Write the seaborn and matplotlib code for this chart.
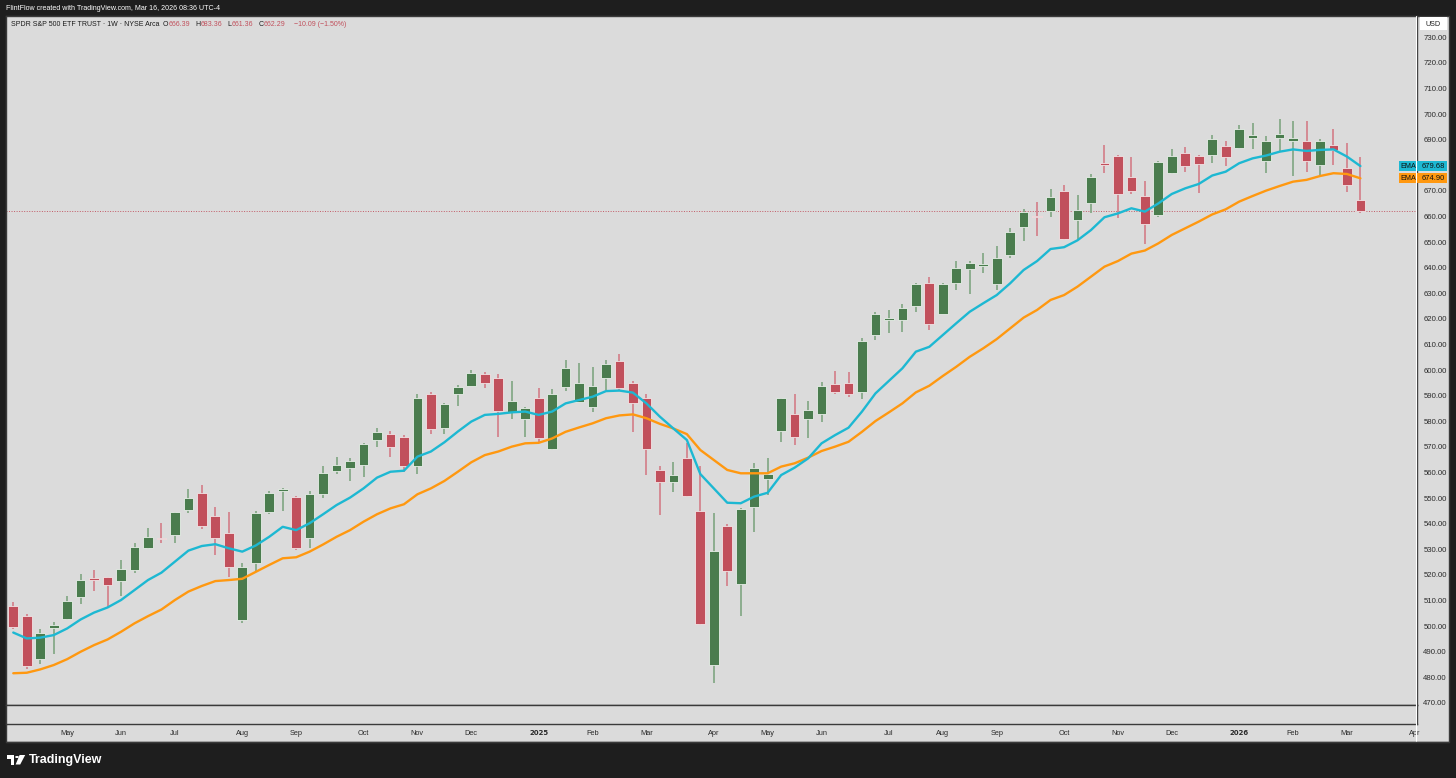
import numpy as np
import pandas as pd
import matplotlib
matplotlib.use("Agg")
import matplotlib.pyplot as plt
import matplotlib.transforms as mtransforms
from matplotlib.patches import Rectangle, Polygon, Circle
from matplotlib.lines import Line2D
import seaborn as sns

# weekly SPY candles (dividend adjusted)
first_week = "2024-04-08"
opens = [507.9, 504.1, 487.1, 499.1, 502.6, 511.5, 518.4, 519.0, 517.7, 521.8,
         530.4, 534.6, 535.6, 545.4, 551.9, 543.0, 536.2, 502.4, 524.8, 544.7,
         552.9, 550.3, 534.5, 551.5, 560.6, 561.9, 562.8, 572.6, 575.2, 573.9,
         562.5, 590.8, 577.5, 590.5, 593.8, 598.5, 596.9, 583.8, 580.9, 589.2,
         569.0, 593.5, 587.7, 585.7, 596.8, 603.7, 595.1, 589.2, 561.0, 556.2,
         565.8, 545.0, 484.8, 539.2, 516.3, 546.7, 557.5, 576.2, 582.8, 580.9,
         582.7, 594.6, 595.1, 591.6, 613.7, 619.7, 619.6, 625.2, 633.9, 621.8,
         633.9, 639.4, 640.5, 633.8, 644.8, 655.8, 660.3, 662.3, 670.0, 658.6,
         665.4, 681.0, 683.8, 675.4, 667.9, 660.6, 676.9, 684.7, 683.8, 684.0,
         687.5, 686.6, 690.8, 681.5, 690.5, 689.6, 689.5, 680.1, 688.1, 678.8,
         666.39]
highs = [509.5, 504.6, 498.9, 501.7, 511.8, 520.2, 521.9, 519.3, 525.8, 532.3,
         538.4, 540.4, 544.7, 553.6, 555.1, 546.6, 544.7, 524.8, 545.0, 552.9,
         554.1, 550.7, 552.9, 562.5, 565.9, 565.8, 571.7, 577.4, 576.2, 574.7,
         590.7, 591.3, 587.3, 594.2, 600.0, 599.4, 598.5, 595.7, 585.7, 592.9,
         592.5, 603.9, 602.9, 601.3, 603.9, 606.3, 595.9, 590.5, 562.5, 564.2,
         571.4, 562.5, 544.0, 539.9, 546.0, 563.6, 565.5, 589.2, 590.5, 588.1,
         595.5, 599.8, 599.4, 612.7, 622.8, 623.5, 625.8, 633.9, 636.2, 633.9,
         642.6, 642.6, 645.9, 648.5, 655.6, 662.9, 665.8, 670.7, 672.3, 668.4,
         676.6, 687.9, 684.0, 683.1, 673.9, 681.7, 686.4, 687.3, 684.0, 691.8,
         689.6, 695.7, 696.4, 691.4, 698.0, 697.3, 697.4, 690.1, 694.1, 688.8,
         683.36]
lows = [498.7, 483.4, 485.1, 489.0, 502.4, 508.6, 513.8, 507.6, 511.8, 520.9,
        530.1, 532.3, 532.6, 544.0, 537.9, 527.8, 519.0, 501.1, 521.7, 543.9,
        545.1, 529.7, 530.4, 549.9, 559.3, 556.8, 558.4, 570.0, 565.9, 560.3,
        559.4, 575.2, 575.2, 586.1, 593.8, 593.1, 574.0, 580.9, 573.7, 572.0,
        568.8, 592.0, 587.7, 583.8, 592.2, 592.0, 575.9, 559.0, 543.4, 552.5,
        550.3, 500.4, 477.6, 515.8, 504.1, 536.9, 551.2, 572.0, 570.7, 573.3,
        579.9, 590.5, 589.6, 588.7, 611.8, 614.4, 614.8, 622.8, 615.7, 621.8,
        631.3, 629.6, 637.8, 631.3, 643.7, 650.6, 652.4, 659.7, 650.8, 651.1,
        661.5, 677.1, 659.3, 668.7, 649.3, 659.9, 676.6, 677.3, 669.3, 681.0,
        679.9, 686.2, 686.2, 676.9, 685.3, 675.8, 677.5, 675.8, 680.1, 669.7,
        661.36]
closes = [499.8, 484.5, 497.4, 500.4, 509.7, 518.1, 518.2, 516.2, 522.4, 531.1,
          534.7, 534.1, 544.6, 549.9, 539.1, 534.3, 523.2, 523.2, 544.3, 552.1,
          553.4, 530.4, 551.7, 559.7, 562.8, 564.4, 571.0, 575.8, 570.1, 562.5,
          589.2, 577.0, 586.6, 593.4, 598.7, 595.1, 584.2, 588.1, 585.1, 573.6,
          590.7, 601.0, 594.8, 593.8, 602.4, 592.9, 587.3, 569.0, 556.2, 559.0,
          550.8, 500.7, 529.2, 521.6, 545.6, 561.6, 559.4, 589.0, 574.0, 584.3,
          593.9, 591.6, 590.7, 611.5, 621.8, 620.2, 624.1, 633.5, 618.1, 633.5,
          639.7, 641.7, 641.4, 643.7, 653.8, 661.8, 659.7, 667.5, 651.1, 662.5,
          675.3, 680.1, 668.8, 670.0, 656.9, 681.4, 683.8, 679.7, 680.5, 690.3,
          683.1, 694.1, 691.8, 689.4, 692.1, 690.8, 681.7, 689.6, 686.0, 672.4,
          662.29]
ema_fast = [497.5, 495.2, 495.5, 496.5, 499.1, 502.6, 505.3, 507.3, 510.2, 514.1,
            518.0, 520.9, 525.2, 529.5, 531.3, 532.0, 530.4, 529.1, 531.5, 534.9,
            538.8, 537.5, 540.2, 543.7, 547.3, 550.2, 553.8, 558.0, 560.3, 560.7,
            566.2, 568.2, 571.8, 576.0, 579.9, 582.5, 582.9, 583.5, 583.8, 582.5,
            583.8, 587.0, 588.3, 589.6, 591.8, 592.0, 591.2, 587.0, 581.8, 577.2,
            572.7, 559.4, 553.8, 548.2, 548.0, 550.6, 552.1, 559.0, 561.9, 565.5,
            571.4, 574.6, 577.5, 583.8, 590.9, 595.8, 600.7, 607.2, 609.1, 613.7,
            618.3, 622.8, 626.1, 629.3, 633.9, 639.1, 642.6, 647.3, 648.0, 650.7,
            654.7, 659.7, 661.2, 663.2, 661.9, 665.1, 668.8, 671.0, 672.7, 676.0,
            677.5, 680.8, 682.7, 683.8, 685.3, 686.2, 685.6, 686.0, 686.2, 683.4,
            679.68]
ema_slow = [481.6, 481.8, 483.1, 484.8, 487.1, 490.0, 492.6, 494.8, 497.8, 501.1,
            503.9, 506.5, 510.2, 513.5, 515.7, 517.6, 518.0, 518.5, 521.2, 523.9,
            526.5, 526.9, 529.1, 531.9, 534.9, 537.5, 540.8, 543.7, 546.0, 547.6,
            551.5, 553.8, 556.7, 560.3, 564.0, 566.8, 568.2, 570.1, 571.4, 571.6,
            573.3, 575.9, 577.6, 579.2, 581.2, 582.3, 582.7, 581.2, 579.0, 577.2,
            575.0, 568.8, 564.9, 561.0, 559.7, 559.7, 559.7, 562.3, 563.6, 565.8,
            568.4, 570.1, 572.0, 575.9, 580.1, 583.5, 587.0, 591.3, 593.9, 597.7,
            601.3, 605.2, 608.5, 612.1, 616.3, 620.5, 623.5, 627.4, 629.3, 632.6,
            636.5, 640.4, 642.6, 645.5, 646.7, 649.5, 652.8, 655.4, 658.0, 660.8,
            662.8, 665.8, 668.0, 670.1, 671.9, 673.6, 674.3, 675.8, 676.9, 676.6,
            674.90]
price_ticks = list(range(470, 731, 10))
change_text = "\u221210.09 (\u22121.50%)"
header_name = "SPDR S&P 500 ETF TRUST \u00b7 1W \u00b7 NYSE Arca"
top_note = "FlintFlow created with TradingView.com, Mar 16, 2026 08:36 UTC-4"

W, H = 1456, 778
BG = "#dbdbdb"
DARK = "#1e1e1e"
LINE = "#3a3a3a"
UP, DOWN = "#4a7c4e", "#c1505c"
UP_WICK, DOWN_WICK = "#86aa88", "#d4848e"
FAST_C, SLOW_C = "#1db8d2", "#ff9810"


def fx(px):
    return px / W


def fy(py):
    return 1 - py / H


sns.set_style("white")
plt.rcParams['font.family'] = ['Liberation Sans', 'DejaVu Sans']

fig = plt.figure(figsize=(W / 100, H / 100), dpi=100, facecolor=DARK)
fig.add_artist(Rectangle((fx(6), fy(742)), fx(1449) - fx(6), fy(16) - fy(742),
                         transform=fig.transFigure, facecolor=BG,
                         edgecolor=LINE, lw=1, zorder=-5))

ax = fig.add_axes([fx(6), fy(705), fx(1417) - fx(6), fy(16) - fy(705)])
ax_low = fig.add_axes([fx(6), fy(724), fx(1417) - fx(6), fy(705) - fy(724)], sharex=ax)
for a in (ax, ax_low):
    a.set_facecolor(BG)
    for s in a.spines.values():
        s.set_color(LINE)
        s.set_linewidth(1)

o = np.array(opens)
h = np.array(highs)
l = np.array(lows)
c = np.array(closes)
x = np.arange(len(c))
up = c >= o
bottom = np.minimum(o, c)
height = np.maximum(np.abs(c - o), 0.45)

ax.vlines(x[up], l[up], h[up], color=UP_WICK, lw=1.3, zorder=2)
ax.vlines(x[~up], l[~up], h[~up], color=DOWN_WICK, lw=1.3, zorder=2)
ax.bar(x[up], height[up], bottom=bottom[up], width=0.72, color=UP,
       edgecolor="#e9f0e9", lw=0.6, zorder=3)
ax.bar(x[~up], height[~up], bottom=bottom[~up], width=0.72, color=DOWN,
       edgecolor="#f3e4e6", lw=0.6, zorder=3)

ema = pd.DataFrame({"week": x, "fast": ema_fast, "slow": ema_slow})
sns.lineplot(data=ema, x="week", y="slow", color=SLOW_C, lw=1.7, ax=ax, zorder=4)
sns.lineplot(data=ema, x="week", y="fast", color=FAST_C, lw=1.7, ax=ax, zorder=5)
ax.set_xlabel("")
ax.set_ylabel("")

ax.axhline(c[-1], color="#c25a66", lw=0.7, ls=(0, (1, 1.6)), zorder=1)

# price scale on the right
ax.set_ylim(469.2, 738.3)
ax.yaxis.tick_right()
ax.set_yticks(price_ticks)
ax.set_yticklabels([f"{p:.2f}" for p in price_ticks])
ax.tick_params(axis="y", length=0, pad=4.5, labelsize=5.6, labelcolor="#2a2a2a")
ax.tick_params(axis="x", length=0, labelbottom=False)

# month ticks at the first weekly bar of each month
dates = pd.date_range(first_week, periods=len(c) + 4, freq="W-MON")
tick_pos, tick_lab = [], []
for i in range(1, len(dates)):
    if dates[i].month != dates[i - 1].month:
        tick_pos.append(i)
        tick_lab.append(str(dates[i].year) if dates[i].month == 1 else dates[i].strftime("%b"))
ax.set_xlim(-0.54, 104.2)
ax_low.set_yticks([])
ax_low.set_xticks(tick_pos)
ax_low.set_xticklabels(tick_lab)
ax_low.tick_params(axis="x", length=0, pad=4.5, labelsize=5.3, labelcolor="#2a2a2a")
for lbl in ax_low.get_xticklabels():
    if lbl.get_text().isdigit():
        lbl.set_fontweight("bold")
        lbl.set_family(["DejaVu Sans"])
        lbl.set_fontsize(5.0)

fig.add_artist(Line2D([fx(1416), fx(1416)], [fy(16), fy(742)], color="white", lw=0.8,
                      transform=fig.transFigure, zorder=6))
fig.add_artist(Line2D([fx(6), fx(1449)], [fy(742), fy(742)], color=LINE, lw=1,
                      transform=fig.transFigure, zorder=6))

# EMA value tags on the price scale
to_ax = lambda px: (px - 6) / (1417 - 6)
blend = mtransforms.blended_transform_factory(ax.transAxes, ax.transData)
box_h = 10 * (738.3 - 469.2) / (705 - 16)
for val, col in ((ema_fast[-1], FAST_C), (ema_slow[-1], SLOW_C)):
    ax.add_patch(Rectangle((to_ax(1399), val - box_h / 2), to_ax(1447) - to_ax(1399), box_h,
                           transform=blend, facecolor=col, edgecolor="none",
                           clip_on=False, zorder=10))
    ax.text(to_ax(1408), val, "EMA", transform=blend, ha="center", va="center",
            fontsize=5.2, color="#111111", clip_on=False, zorder=11)
    ax.text(to_ax(1433), val, f"{val:.2f}", transform=blend, ha="center", va="center",
            fontsize=5.4, color="#111111", clip_on=False, zorder=11)

# USD tag
fig.add_artist(Rectangle((fx(1420), fy(30)), fx(1447) - fx(1420), fy(17.5) - fy(30),
                         transform=fig.transFigure, facecolor="white",
                         edgecolor="none", zorder=8))
fig.text(fx(1433.5), fy(24), "USD", ha="center", va="center", fontsize=5.2,
         color="#222222", zorder=9)

# top note and legend row
fig.text(fx(6), fy(8), top_note, ha="left", va="center", fontsize=5.1, color="white")

renderer = fig.canvas.get_renderer()
pieces = [(header_name, "#1a1a1a", 3), ("O", "#1a1a1a", 0.5), (f"{o[-1]:.2f}", DOWN, 5),
          ("H", "#1a1a1a", 0.5), (f"{h[-1]:.2f}", DOWN, 5),
          ("L", "#1a1a1a", 0.5), (f"{l[-1]:.2f}", DOWN, 5),
          ("C", "#1a1a1a", 0.5), (f"{c[-1]:.2f}", DOWN, 8),
          (change_text, DOWN, 0)]
cur = 11
for s, col, gap in pieces:
    t = fig.text(fx(cur), fy(24), s, ha="left", va="center", fontsize=5.0, color=col)
    cur += t.get_window_extent(renderer=renderer).width + gap

# TradingView footer mark
logo = [Polygon([(fx(6.7), fy(755)), (fx(14.5), fy(755)), (fx(14.5), fy(764.5)),
                 (fx(10.6), fy(764.5)), (fx(10.6), fy(758.6)), (fx(6.7), fy(758.6))]),
        Polygon([(fx(19.6), fy(755)), (fx(25.2), fy(755)), (fx(20.2), fy(764.5)),
                 (fx(15.6), fy(764.5))])]
for p in logo:
    p.set_transform(fig.transFigure)
    p.set_facecolor("white")
    p.set_edgecolor("none")
    fig.add_artist(p)
fig.add_artist(Circle((fx(17.0), fy(757.0)), 1.9 / W, transform=fig.transFigure,
                      facecolor="white", edgecolor="none"))
fig.text(fx(29), fy(760), "TradingView", ha="left", va="center", fontsize=9.0,
         fontweight="bold", color="white")

fig.savefig("out.png", dpi=100, facecolor=DARK)
